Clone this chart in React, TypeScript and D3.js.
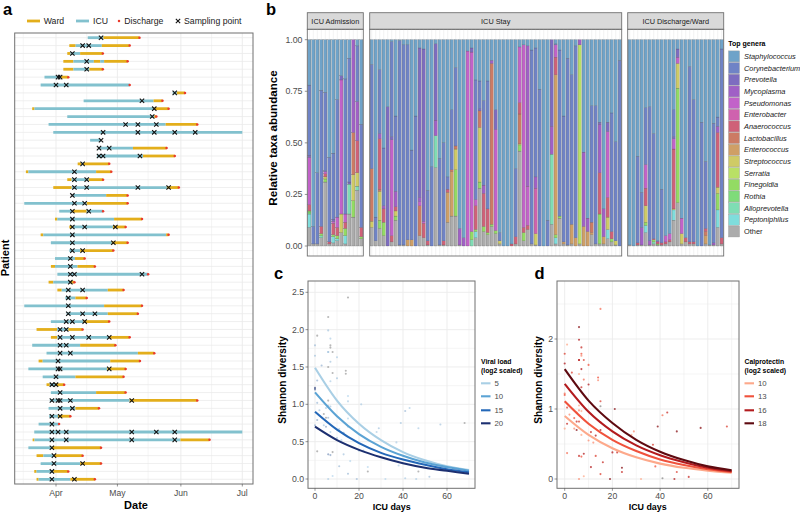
import * as d3 from "d3";

const FONT = "'Liberation Sans', Arial, sans-serif";

// panel a: stay boundaries in days after 1 April, segments alternate starting from stayFirst
const stayDays: number[][] = [
    [15.5, 23.2, 40.8], [6.5, 9.6, 22.4, 36], [5.5, 7, 11.8, 22.9], [3.6, 8.5, 18.5, 21.6, 23.5, 35], [3.6, 8.5, 16.3, 22.9],
    [-5.6, 2.5, 6], [-7.5, 36], [57, 59, 63], [13.5, 47.7, 52], [-11.6, -10.5, 48, 55],
    [5.5, 48, 49], [-3.6, 53.6, 69], [-1.3, 91], [16.7, 22], [20.5, 37.6, 54],
    [20, 42.5, 58], [10.6, 12.5, 13.5, 26], [-14.7, -13.5, 19.6, 27], [5.5, 7.7, 16, 23], [-1.3, 7.7, 54.2, 60],
    [8, 24.5, 35], [-15.5, 15, 35], [1.6, 8, 15, 23], [-0.5, 0.7, 28.4, 42], [6.5, 8, 27.8, 34],
    [-7.5, -6.2, 53.8, 55], [-2.5, 27.3, 35], [6.5, 11.8, 28], [-0.5, 9.3, 14], [-2.5, -0.5, 10.5, 19],
    [0.7, 45], [-3.6, -1.3, 7, 9], [0.7, 2.8, 25.3, 33], [4.6, 9.5, 15], [-15.5, 23.5, 42],
    [5.2, 25.3, 40], [-2.5, 13.4, 26], [-9.5, 0.5, 6, 13], [-2.5, 0.7, 26, 36], [-11.6, 11.8, 29],
    [-4.6, 40, 48], [-8.5, -6.5, 26.5, 41], [-13.5, 25, 34], [-6.5, 9.5, 33], [-4.6, -3, -0.5, 4],
    [-2.5, 19.6, 34], [-3, 36, 69], [-3.6, 9.5, 21], [-3.3, 1, 7], [-8.5, 1.5],
    [-10.6, 91], [-11.4, -10.5, 60.8, 75], [-13.5, -2, 22], [-9.5, -6.2, -1, 13], [-7.5, 11.8, 22],
    [-10.6, -9.5, -1.3, 6], [-9.5, -8.5, 7, 19]
];
const stayFirst = "IWWWWIIIIWIIIIIIWWWWIIIWWWIIIWIWWIIIIWWIIWIIWIIIIIIWIWIWW".split("");
const samplingDays: number[][] = [
    [22], [13, 16], [8], [15], [15], [1, 2], [0, 5], [58], [42], [48],
    [47], [34, 40, 49], [23, 40, 48, 58, 68], [22], [21, 26], [21, 23, 41], [13], [9], [9, 15], [9, 15, 40, 55],
    [8], [9, 14], [8, 16], [8], [8, 14, 29], [8], [8, 28], [8, 13], [7], [7],
    [7, 9, 42], [7], [6, 13], [6], [6], [6, 13, 19], [5, 8, 14], [2, 5], [2, 8, 16, 26], [2, 5],
    [2, 7], [1], [1, 2, 26], [0], [-2, 0], [2], [-2, 1, 2, 7, 37], [2, 8], [-2, 2], [-2],
    [-2, 1, 5, 37, 49, 58], [-2, 5, 37, 58], [-2], [-1], [-1, 13], [-2], [-2, 9]
];
const notDischarged = [12, 13, 50];
const monthTicks = [new Date(2020, 3, 1), new Date(2020, 4, 1), new Date(2020, 5, 1), new Date(2020, 6, 1)];

// panel b
const generaCodes = ["Sa", "Co", "Pr", "My", "Ps", "Eb", "An", "La", "Ec", "St", "Se", "Fi", "Ro", "Al", "Pe", "O"];
const generaNames = [
    "Staphylococcus", "Corynebacterium", "Prevotella", "Mycoplasma", "Pseudomonas", "Enterobacter", "Anaerococcus", "Lactobacillus",
    "Enterococcus", "Streptococcus", "Serratia", "Finegoldia", "Rothia", "Alloprevotella", "Peptoniphilus", "Other"
];
const generaColors = [
    "#6fa3c9", "#6f83c6", "#7d6cc0", "#a060c6", "#c262c9", "#cf62ae", "#cf6178", "#cc7b64",
    "#cf9f66", "#cfcb66", "#b9e066", "#93db63", "#7fdb7a", "#7fddb4", "#7fdddc", "#acacac"
];
type Bar = Record<string, number>;
const admissionBars: Bar[] = [
    { O: .09, Pe: .065, Ro: .01, Fi: .005, An: .03, Ps: .23, Pr: .01, Co: .34 },
    { O: .01, Co: .085 }, { O: .01, Co: .345 },
    { O: .04, Al: .01, Fi: .01, An: .035, Co: .66 },
    { O: .31, Fi: .015, St: .01, An: .015, Ps: .01, Pr: .005, Co: .38 },
    { O: .01, An: .01, Co: .41 },
    { O: .015, Pe: .03, Fi: .01, An: .055, Ps: .01, Pr: .01, Co: .32 },
    { O: .025, Pe: .01, Fi: .015, An: .04, Ps: .05, Co: .57 },
    { O: .065, St: .09, Ps: .65, Pr: .02 },
    { O: .01, Pe: .04, Fi: .035, An: .03, Ps: .04, Co: .655 },
    { O: .155, Al: .145, Pr: .01, Co: .6 },
    { O: .14, Fi: .08, St: .125, La: .205, My: .45 },
    { O: .27, Al: .02, St: .065, An: .155, My: .19, Co: .27 },
    { O: .035, Fi: .01, An: .045, Co: .5 }
];
const stayBars: Bar[] = [
    { O: .09, St: .03, La: .255, Co: .505 }, { O: .025, Co: .115 },
    { O: .085, Fi: .04, St: .14, La: .01, An: .245, My: .025, Co: .31 },
    { O: .05, Fi: .065, An: .065, My: .015, Co: .28 }, { Pr: .675 },
    { O: .02, An: .03, Ps: .465, Pr: .015, Co: .46 },
    { O: .125, Fi: .02, St: .025, An: .02, My: .075, Co: .365 },
    { O: .005, Co: .99 }, { O: .005, Co: .97 }, { Ec: .03, Co: .945 }, { Ec: .03, Co: .435 }, { Co: .63 },
    { O: .05, La: .145, Ps: .02, My: .02, Pr: .725 }, { O: .04, An: .07, Ps: .01, Pr: .835 },
    { O: .005, An: .02, Co: .245 }, { Co: .385 },
    { O: .38, Al: .155, My: .075, Pr: .37 }, { O: .005, Co: .42 }, { O: .005, An: .02, Co: .475 },
    { O: .115, Ec: .145, An: .015, Co: .06 }, { O: .145, Ec: .215, La: .01, Co: .29 },
    { O: .145, Fi: .225, St: .1, La: .015, Co: .38 }, { O: .005, My: .08 }, { My: .04 },
    { Ps: .945 }, { Al: .03, Fi: .04, Ps: .87, Pr: .02 },
    { O: .04, Pe: .03, Fi: .01, An: .115, Ps: .03, Co: .58 },
    { O: .28, Fi: .03, St: .265, La: .08, Pr: .01, Co: .135 },
    { O: .07, Fi: .025, An: .16, My: .04, Co: .41 }, { O: .055, Fi: .01, An: .115, Co: .62 },
    { O: .095, Fi: .01, La: .78, My: .015 }, { O: .06, Fi: .015, Ps: .49, Pr: .095 },
    { O: .01, St: .015, Co: .04 }, {}, {}, { An: .01 }, { O: .01, An: .035, Co: .33 },
    { O: .46, Fi: .03, St: .005, La: .145, An: .055, Ps: .27 },
    { O: .025, Fi: .04, An: .025, Ps: .885 }, { O: .08, An: .02, Ps: .19, My: .68 },
    { O: .01, Co: .94 }, { O: .005, St: .055, Eb: .22, My: .055, Co: .625 }, { Co: .76 }, {}, { Co: .125 },
    { O: .105, Al: .34, My: .135, Pr: .42 }, { O: .01, Pe: .03, Fi: .015, Ec: .775, An: .085, Ps: .06, Co: .005 },
    { O: .135, Fi: .01, Co: .805 }, { O: .01, Ec: .01, Co: .61 }, { O: .005, Co: .905 },
    { O: .01, Ec: .095, Co: .725 }, { Ec: .04, Co: .93 }, { O: .01, Se: .965, My: .025 },
    { Ec: .095, My: .36 }, { Ec: .07, My: .065 }, { O: .055, Ec: .01, La: .05, Co: .565 }, { O: .01, Co: .67 },
    { O: .01, Fi: .145, An: .2, My: .235, Pr: .01 }, { O: .01, Ec: .035, My: .135 },
    { O: .035, Pe: .045, St: .06, An: .095, Ps: .32, Pr: .045 }, { O: .02, Fi: .015, An: .035, Co: .575 },
    { O: .005, St: .02, Co: .48 }, { Co: .9 }
];
const wardBars: Bar[] = [
    { O: .005 }, {}, { O: .005, An: .01, Co: .42 }, { O: .005, My: .085, Co: .17 },
    { O: .065, Pe: .035, Fi: .015, St: .08, An: .085, Ps: .115, Co: .275 },
    { O: .005, My: .02, Co: .65 }, { O: .01, Al: .01, Fi: .01, An: .005, Co: .51 },
    { O: .005, Fi: .005, An: .01, My: .005 }, { O: .005, An: .01, Co: .26 },
    { O: .01, An: .01, Ps: .03 }, { O: .02, An: .01, Ps: .03 },
    { O: .125, Pe: .05, St: .005, An: .29, Ps: .05, Pr: .01, Co: .13 },
    { O: .21, Fi: .555, St: .12, Ps: .03, Pr: .04 }, { O: .01, St: .05, Ps: .075 },
    { O: .02, An: .02 }, { O: .01, An: .01, Co: .85 }, { O: .01, An: .01, Co: .69 }, {}, { Co: .6 },
    { O: .01, Ec: .04, La: .02, An: .015, Co: .325 }, { O: .005 }, { O: .005, My: .01, Co: .58 },
    { O: .09, Pe: .085, Fi: .08, St: .03, An: .265, My: .03, Co: .045 }, { O: .01, An: .03, Co: .915 }
];

// panels c and d: shared points
const pointDays = [
    0, 0, 0, 0, 0, 1, 1, 1, 1, 1, 2, 3, 4, 4, 5, 5, 5, 6, 6, 6, 6, 6, 6, 6, 6, 6, 6, 7, 7, 7, 7, 7, 7, 7, 7, 8, 8, 8, 8,
    10, 10, 10, 11, 11, 12, 13, 13, 14, 14, 15, 15, 15, 15, 15, 15, 16, 19, 20, 21, 22, 24, 24, 28, 29, 32, 37, 38, 39, 41, 41, 43, 46, 47, 47, 52, 57, 68
];
const pointShannon = [
    1.79, 1.65, 1.22, 1.2, .72, 1.92, .37, .79, 1.02, 1.32, .92, 1.52, .72, .87, .7, .95, .82, 2.17, 1.99, 1.7, 1.7, 1.5, 1.05, .98, .82, .33, 0, 1.88, 1.79, 1.76, 1.57, 1.31, .97, .63, .32, 1.7, 1.42, .36, .04,
    1.63, 1.35, .55, .67, .17, .52, .33, .62, 1.45, 1.41, 2.43, 1.11, 1.04, .81, .7, .07, .24, 0, .38, 1, .38, .16, .1, .63, .68, 0, .49, .18, .75, .91, .01, .95, 0, .68, .1, .03, .73, .75
];
const pointViral: (number | null)[] = [
    8, 7, 20, 17, 9, null, null, 10, 8, 9, 7, 9, 7, null, 10, 6, null, null, 7, 8, 6, null, null, 7, 8, 12, 6, 6, null, null, 7, 6, 7, 6, 11, null, null, null, 5,
    6, 7, 7, 6, 8, 5, 7, 8, null, null, null, 5, 6, 5, 6, 8, 5, 8, 6, 6, 7, 5, null, 6, 7, 5, 6, 6, 7, 8, 6, 6, 6, 6, null, 8, 7, null
];
const pointCalpro: (number | null)[] = [
    14, 16, 12, 13, 10, 10, 12, 15, 14, 10, 11, 14, 11, 13, 17, 11, 15, 17, 16, 15, 16, 10, 10, 11, 14, 15, 11, 15, 13, 11, 16, 15, 10, 10, 13, 14, 12, 16, 10,
    13, 16, 11, 15, 16, 11, 14, 16, 13, 11, 12, 14, null, 13, 16, 14, 15, 17, 16, 17, 15, 17, 15, 10, 11, 10, 14, 13, 17, 12, null, 15, 16, 17, 14, 15, 17, 14
];
const curveDays = [0, 10, 20, 30, 40, 50, 60, 70];
const viralLevels = [5, 10, 15, 20];
const viralColors = ["#a9cfe5", "#5ba3d4", "#2468b8", "#1c2f70"];
const viralCurves = [
    [1.49, 1.05, .74, .52, .36, .25, .17, .12],
    [1.16, .84, .6, .43, .31, .22, .16, .11],
    [.9, .66, .48, .35, .26, .19, .13, .09],
    [.7, .52, .39, .29, .21, .15, .11, .07]
];
const calproLevels = [10, 13, 16, 18];
const calproColors = ["#fda98b", "#f0523c", "#b31b1e", "#5e0a10"];
const calproCurves = [
    [.9, .63, .44, .31, .22, .16, .12, .09],
    [1.11, .79, .56, .4, .28, .2, .14, .1],
    [1.36, .96, .68, .48, .34, .24, .16, .11],
    [1.57, 1.12, .8, .56, .39, .27, .18, .125]
];

const ICU = "#82c1ce";
const WARD = "#e3ae1b";
const RED = "#ea3a2c";
const FRAME = "#707070";
const GRID = "#ebebeb";
const TICK = "#4d4d4d";

const cross = d3.symbol().type(d3.symbolX).size(14)() as string;

function PanelA() {
    const x = d3.scaleTime().domain([new Date(2020, 3, 1), new Date(2020, 6, 1)]).range([56, 242.3]);
    const y = d3.scalePoint<number>().domain(d3.range(stayDays.length)).range([37.7, 479.3]);
    const day = (d: number) => x(d3.timeHour.offset(new Date(2020, 3, 1), d * 24));
    const minor = [day(-16), day(15), day(45), day(76)];
    return (
        <g>
            {stayDays.map((_s, i) => <line key={i} x1={15} x2={253} y1={y(i)} y2={y(i)} stroke={GRID} strokeWidth={0.8} />)}
            {minor.map((m, i) => <line key={i} x1={m} x2={m} y1={33} y2={484} stroke={GRID} strokeWidth={0.5} />)}
            {monthTicks.map((m, i) => <line key={i} x1={x(m)} x2={x(m)} y1={33} y2={484} stroke={GRID} strokeWidth={0.9} />)}
            {stayDays.map((stay, i) => (
                <g key={i}>
                    {stay.slice(1).map((end, j) => {
                        const first = stayFirst[i] === "I" ? 0 : 1;
                        const isIcu = (j + first) % 2 === 0;
                        return <line key={j} x1={day(stay[j])} x2={day(end)} y1={y(i)} y2={y(i)} stroke={isIcu ? ICU : WARD} strokeWidth={2.8} />;
                    })}
                    {!notDischarged.includes(i) && <circle cx={day(stay[stay.length - 1])} cy={y(i)} r={1.25} fill={RED} />}
                    {samplingDays[i].map((s, j) => (
                        <path key={j} d={cross} transform={`translate(${day(s)},${y(i)})`} fill="none" stroke="#111" strokeWidth={1.1} />
                    ))}
                </g>
            ))}
            <rect x={14.7} y={33} width={238.3} height={451} fill="none" stroke={FRAME} strokeWidth={1} />
            {monthTicks.map((m, i) => (
                <g key={i}>
                    <line x1={x(m)} x2={x(m)} y1={484} y2={486.5} stroke={TICK} strokeWidth={0.6} />
                    <text x={x(m)} y={496} textAnchor="middle" fontSize={8.6} fill={TICK}>{d3.timeFormat("%b")(m)}</text>
                </g>
            ))}
            <text x={136} y={508.5} textAnchor="middle" fontSize={11} fontWeight="bold">Date</text>
            <text transform="translate(8.5,258) rotate(-90)" textAnchor="middle" fontSize={11} fontWeight="bold">Patient</text>

            <line x1={27} x2={40} y1={21} y2={21} stroke={WARD} strokeWidth={2.8} />
            <text x={43.7} y={24.3} fontSize={8.7} fill="#222">Ward</text>
            <line x1={76} x2={89} y1={21} y2={21} stroke={ICU} strokeWidth={2.8} />
            <text x={93} y={24.3} fontSize={8.7} fill="#222">ICU</text>
            <circle cx={119} cy={21} r={1.25} fill={RED} />
            <text x={124.3} y={24.3} fontSize={8.7} fill="#222">Discharge</text>
            <path d={cross} transform="translate(178,21)" fill="none" stroke="#111" strokeWidth={1.1} />
            <text x={184} y={24.3} fontSize={8.7} fill="#222">Sampling point</text>
        </g>
    );
}

function Facet({ bars, x0, x1, label, y }: { bars: Bar[]; x0: number; x1: number; label: string; y: d3.ScaleLinear<number, number> }) {
    const rows = bars.map(b => {
        const row: Bar = Object.fromEntries(generaCodes.map(c => [c, b[c] ?? 0]));
        row.Sa = Math.max(0, 1 - d3.sum(Object.values(b)));
        return row;
    });
    const band = d3.scaleBand<number>().domain(d3.range(rows.length)).range([x0, x1]).paddingInner(0.2).paddingOuter(0.1);
    const keys = [...generaCodes].reverse();
    const series = d3.stack<Bar>().keys(keys)(rows);
    return (
        <g>
            <rect x={x0} y={12.7} width={x1 - x0} height={16.6} fill="#d9d9d9" stroke={FRAME} strokeWidth={0.9} />
            <text x={(x0 + x1) / 2} y={23.5} textAnchor="middle" fontSize={7.3} fill="#1a1a1a">{label}</text>
            {rows.map((_r, i) => {
                const c = band(i)! + band.bandwidth() / 2;
                return <line key={i} x1={c} x2={c} y1={29.3} y2={256} stroke={GRID} strokeWidth={0.6} />;
            })}
            {series.map(s => (
                <g key={s.key} fill={generaColors[generaCodes.indexOf(s.key)]}>
                    {s.filter(d => d[1] - d[0] > 0).map(d => {
                        const i = rows.indexOf(d.data);
                        return (
                            <rect key={i} x={band(i)} width={band.bandwidth()} y={y(d[1])} height={y(d[0]) - y(d[1])}
                                stroke="#333" strokeWidth={0.3} strokeOpacity={0.6} />
                        );
                    })}
                </g>
            ))}
            <rect x={x0} y={29.3} width={x1 - x0} height={226.7} fill="none" stroke={FRAME} strokeWidth={0.9} />
        </g>
    );
}

function PanelB() {
    const y = d3.scaleLinear().domain([0, 1]).range([246, 39.7]);
    const ticks = [0, .25, .5, .75, 1];
    return (
        <g>
            <Facet bars={admissionBars} x0={307.3} x1={363.3} label="ICU Admission" y={y} />
            <Facet bars={stayBars} x0={369.7} x1={621.7} label="ICU Stay" y={y} />
            <Facet bars={wardBars} x0={627.7} x1={723.7} label="ICU Discharge/Ward" y={y} />
            {ticks.map(t => (
                <g key={t}>
                    <line x1={304.8} x2={307.3} y1={y(t)} y2={y(t)} stroke={TICK} strokeWidth={0.6} />
                    <text x={302.5} y={y(t) + 3} textAnchor="end" fontSize={8.8} fill={TICK}>{d3.format(".2f")(t)}</text>
                </g>
            ))}
            <text transform="translate(277,138) rotate(-90)" textAnchor="middle" fontSize={11.6} fontWeight="bold">Relative taxa abundance</text>
            <text x={728.3} y={46.3} fontSize={7} fontWeight="bold">Top genera</text>
            {generaNames.map((g, i) => (
                <g key={g}>
                    <rect x={728.5} y={50.9 + i * 11.67} width={11} height={11} fill={generaColors[i]} stroke="#999" strokeWidth={0.4} />
                    <text x={744} y={59 + i * 11.67} fontSize={7.4} fontStyle={g === "Other" ? "normal" : "italic"} fill="#1a1a1a">{g}</text>
                </g>
            ))}
        </g>
    );
}

interface ScatterProps {
    left: number;
    right: number;
    x0: number;
    xPerDay: number;
    yMax: number;
    yTicks: number[];
    yMinor: number[];
    tickFormat: (v: number) => string;
    levels: number[];
    colors: string[];
    curves: number[][];
    pointColor: (i: number) => string;
    pointOpacity: number;
    titleX: number;
    legendX: number;
    legendTitle: string;
    yTitleX: number;
}

function Scatter(p: ScatterProps) {
    const top = 281, bottom = 488.3;
    const x = d3.scaleLinear().domain([0, 70]).range([p.x0, p.x0 + p.xPerDay * 70]);
    const y = d3.scaleLinear().domain([0, p.yMax]).range([479, top]);
    const line = d3.line<number>().x((_d, i) => x(curveDays[i])).y(d => y(d)).curve(d3.curveMonotoneX);
    return (
        <g>
            {[10, 30, 50, 70].map(t => <line key={t} x1={x(t)} x2={x(t)} y1={top} y2={bottom} stroke={GRID} strokeWidth={0.5} />)}
            {[0, 20, 40, 60].map(t => <line key={t} x1={x(t)} x2={x(t)} y1={top} y2={bottom} stroke={GRID} strokeWidth={0.9} />)}
            {p.yMinor.map(t => <line key={t} x1={p.left} x2={p.right} y1={y(t)} y2={y(t)} stroke={GRID} strokeWidth={0.5} />)}
            {p.yTicks.map(t => <line key={t} x1={p.left} x2={p.right} y1={y(t)} y2={y(t)} stroke={GRID} strokeWidth={0.9} />)}
            {pointDays.map((d, i) => (
                <circle key={i} cx={x(d)} cy={y(pointShannon[i])} r={1.05} fill={p.pointColor(i)} opacity={p.pointOpacity} />
            ))}
            {p.curves.map((c, i) => <path key={i} d={String(line(c))} fill="none" stroke={p.colors[i]} strokeWidth={2.1} />)}
            <rect x={p.left} y={top} width={p.right - p.left} height={bottom - top} fill="none" stroke={FRAME} strokeWidth={1} />
            {[0, 20, 40, 60].map(t => (
                <g key={t}>
                    <line x1={x(t)} x2={x(t)} y1={bottom} y2={bottom + 2.5} stroke={TICK} strokeWidth={0.6} />
                    <text x={x(t)} y={498.5} textAnchor="middle" fontSize={8.7} fill={TICK}>{t}</text>
                </g>
            ))}
            {p.yTicks.map(t => (
                <g key={t}>
                    <line x1={p.left - 2.5} x2={p.left} y1={y(t)} y2={y(t)} stroke={TICK} strokeWidth={0.6} />
                    <text x={p.left - 4} y={y(t) + 3} textAnchor="end" fontSize={8.7} fill={TICK}>{p.tickFormat(t)}</text>
                </g>
            ))}
            <text x={p.titleX} y={510} textAnchor="middle" fontSize={8.9} fontWeight="bold">ICU days</text>
            <text transform={`translate(${p.yTitleX},380) rotate(-90)`} textAnchor="middle" fontSize={10.1} fontWeight="bold">Shannon diversity</text>
            <text x={p.legendX} y={364} fontSize={6.8} fontWeight="bold">{p.legendTitle}</text>
            <text x={p.legendX} y={372.8} fontSize={6.8} fontWeight="bold">(log2 scaled)</text>
            {p.levels.map((l, i) => {
                const ly = [383.3, 396.3, 410.3, 423.3][i];
                return (
                    <g key={l}>
                        <line x1={p.legendX} x2={p.legendX + 9.5} y1={ly} y2={ly} stroke={p.colors[i]} strokeWidth={2.1} />
                        <text x={p.legendX + 13.5} y={ly + 2.8} fontSize={7.8} fill={TICK}>{l}</text>
                    </g>
                );
            })}
        </g>
    );
}

export default function App() {
    const viralColor = d3.scaleLinear<string>().domain([5, 20]).range(["#a9cfe9", "#1c2f70"]);
    const calproColor = d3.scaleLinear<string>().domain([10, 13, 16, 18]).range(calproColors);
    const letter = (t: string, lx: number, ly: number) => (
        <text x={lx} y={ly} fontSize={16.5} fontWeight="bold">{t}</text>
    );
    return (
        <svg width={800} height={512} style={{ position: "absolute", left: 0, top: 0, fontFamily: FONT, background: "#fff" }}>
            {letter("a", 3, 15.2)}
            {letter("b", 266, 15.2)}
            {letter("c", 274, 278.5)}
            {letter("d", 534.5, 278.5)}
            <PanelA />
            <PanelB />
            <Scatter left={308} right={475} x0={315} xPerDay={2.2} yMax={(479 - 281) / 74.67} yTicks={[0, .5, 1, 1.5, 2, 2.5]}
                yMinor={[.25, .75, 1.25, 1.75, 2.25]} tickFormat={d3.format(".1f")} levels={viralLevels} colors={viralColors} curves={viralCurves}
                pointColor={i => (pointViral[i] === null ? "#888" : viralColor(pointViral[i] as number))} pointOpacity={0.6}
                titleX={391.7} legendX={481} legendTitle="Viral load" yTitleX={286} />
            <Scatter left={557} right={739} x0={564.7} xPerDay={2.385} yMax={(479 - 281) / 70} yTicks={[0, 1, 2]}
                yMinor={[.5, 1.5, 2.5]} tickFormat={d3.format("d")} levels={calproLevels} colors={calproColors} curves={calproCurves}
                pointColor={i => (pointCalpro[i] === null ? "#888" : calproColor(pointCalpro[i] as number))} pointOpacity={0.75}
                titleX={647.7} legendX={744.5} legendTitle="Calprotectin" yTitleX={542} />
        </svg>
    );
}
